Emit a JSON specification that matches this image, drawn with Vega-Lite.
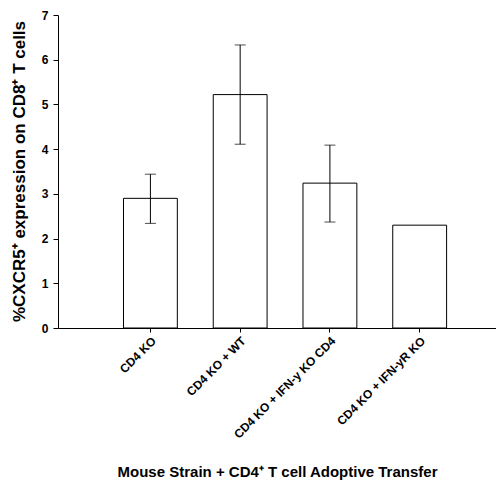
{
  "$schema": "https://vega.github.io/schema/vega-lite/v6.json",
  "width": 438,
  "height": 313,
  "autosize": "none",
  "padding": {"left": 58, "top": 15, "right": 0, "bottom": 153},
  "background": "white",
  "config": {
    "view": {"stroke": null},
    "font": "Liberation Sans",
    "axis": {"grid": false, "domainColor": "#000", "tickColor": "#000", "labelColor": "#000", "titleColor": "#000", "labelFont": "Liberation Sans", "titleFont": "Liberation Sans", "labelFontWeight": "bold", "titleFontWeight": "bold"}
  },
  "data": {
    "values": [
      {"group": "CD4 KO", "value": 2.9, "lo": 2.34, "hi": 3.44},
      {"group": "CD4 KO + WT", "value": 5.22, "lo": 4.11, "hi": 6.33},
      {"group": "CD4 KO + IFN-y KO CD4", "value": 3.24, "lo": 2.37, "hi": 4.09},
      {"group": "CD4 KO + IFN-yR KO", "value": 2.3, "lo": null, "hi": null}
    ]
  },
  "encoding": {
    "x": {
      "field": "group",
      "type": "nominal",
      "sort": null,
      "scale": {"paddingInner": 0.4, "paddingOuter": 0.64, "align": 0.57},
      "axis": {
        "title": "Mouse Strain + CD4⁺ T cell Adoptive Transfer",
        "titleFontSize": 15,
        "titleY": 148,
        "titleBaseline": "alphabetic",
        "labelAngle": -45,
        "labelFontSize": 12,
        "labelPadding": 3,
        "tickSize": 4,
        "domainWidth": 1
      }
    }
  },
  "layer": [
    {
      "mark": {"type": "bar", "fill": "white", "stroke": "#000", "strokeWidth": 1},
      "encoding": {
        "y": {
          "field": "value",
          "type": "quantitative",
          "scale": {"domain": [0, 7], "nice": false},
          "axis": {
            "title": "%CXCR5⁺ expression on CD8⁺ T cells",
            "titleFontSize": 17,
            "titleX": -39,
            "titleY": 156,
            "titleAlign": "center",
            "titleBaseline": "middle",
            "values": [0, 1, 2, 3, 4, 5, 6, 7],
            "labelFontSize": 12,
            "tickSize": 5,
            "labelPadding": 5
          }
        }
      }
    },
    {
      "mark": {"type": "rule", "color": "#000", "strokeWidth": 1},
      "encoding": {
        "y": {"field": "lo", "type": "quantitative"},
        "y2": {"field": "hi"}
      }
    },
    {
      "mark": {"type": "tick", "color": "#000", "size": 11, "thickness": 1},
      "encoding": {"y": {"field": "lo", "type": "quantitative"}}
    },
    {
      "mark": {"type": "tick", "color": "#000", "size": 11, "thickness": 1},
      "encoding": {"y": {"field": "hi", "type": "quantitative"}}
    }
  ]
}
